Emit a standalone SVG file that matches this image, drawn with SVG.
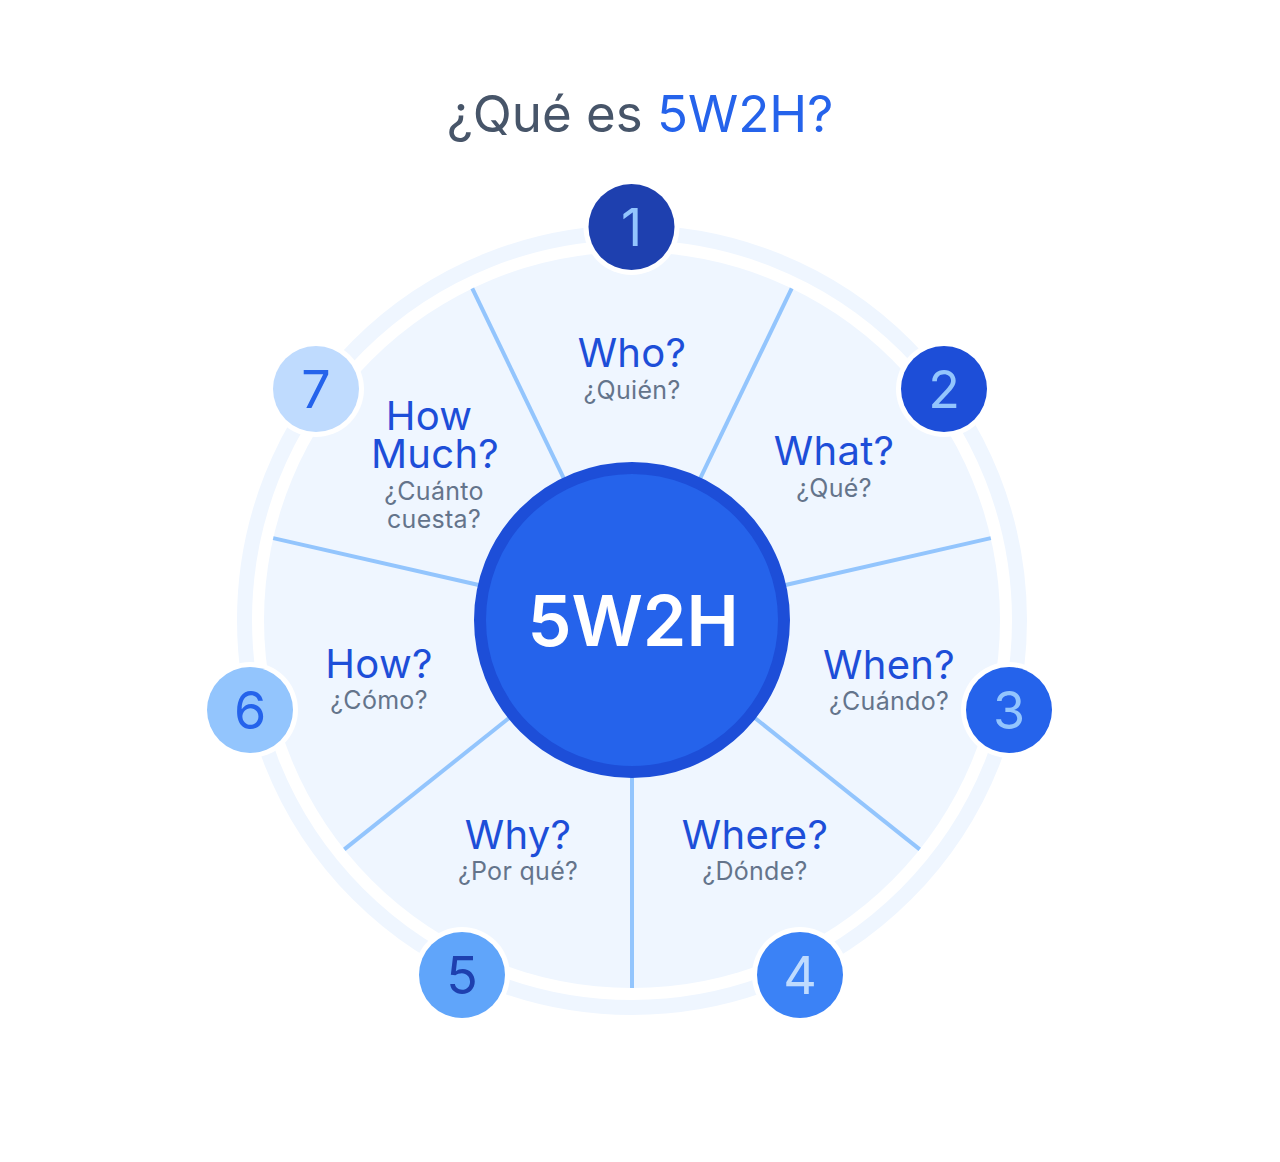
<svg xmlns="http://www.w3.org/2000/svg" width="1280" height="1162" viewBox="0 0 1280 1162">
<style>
text{font-family:Inter,"Noto Sans","Liberation Sans",sans-serif;text-anchor:middle}
.title{font-size:51px;fill:#475569}
.lbl{font-size:40px;fill:#1D4ED8;letter-spacing:0.3px}
.sub{font-size:25px;fill:#64748B;letter-spacing:0.3px}
.num{font-size:52px}
.spoke{stroke:#93C5FD;stroke-width:4;stroke-linecap:butt}
.halo{fill:#FFFFFF}
</style>
<rect width="1280" height="1162" fill="#FFFFFF"/>
<text class="title" x="640" y="132">¿Qué es <tspan fill="#2563EB">5W2H?</tspan></text>
<g id="wheel">
<circle cx="632" cy="620" r="387.5" fill="none" stroke="#EFF6FF" stroke-width="15"/>
<circle cx="632" cy="620" r="368" fill="#EFF6FF"/>
</g>
<g id="connectors">
<line class="spoke" x1="632" y1="620" x2="472.3" y2="288.4"/>
<line class="spoke" x1="632" y1="620" x2="791.7" y2="288.4"/>
<line class="spoke" x1="632" y1="620" x2="990.8" y2="538.1"/>
<line class="spoke" x1="632" y1="620" x2="919.7" y2="849.4"/>
<line class="spoke" x1="632" y1="620" x2="632" y2="988"/>
<line class="spoke" x1="632" y1="620" x2="344.3" y2="849.4"/>
<line class="spoke" x1="632" y1="620" x2="273.2" y2="538.1"/>
</g>
<g id="center">
<circle cx="632" cy="620" r="152" fill="#2563EB" stroke="#1D4ED8" stroke-width="12"/>
<text x="633" y="646" font-size="70" font-weight="600" fill="#FFFFFF">5W2H</text>
</g>
<g id="who"><text class="lbl" x="632" y="367">Who?</text><text class="sub" x="632" y="399">¿Quién?</text></g>
<g id="what"><text class="lbl" x="834" y="465">What?</text><text class="sub" x="834" y="497">¿Qué?</text></g>
<g id="when"><text class="lbl" x="889" y="679">When?</text><text class="sub" x="889" y="710">¿Cuándo?</text></g>
<g id="where"><text class="lbl" x="755" y="849">Where?</text><text class="sub" x="755" y="880">¿Dónde?</text></g>
<g id="why"><text class="lbl" x="518" y="849">Why?</text><text class="sub" x="518" y="880">¿Por qué?</text></g>
<g id="how"><text class="lbl" x="379" y="678">How?</text><text class="sub" x="379" y="709">¿Cómo?</text></g>
<g id="howmuch"><text class="lbl" x="429" y="430">How</text><text class="lbl" x="435" y="468">Much?</text><text class="sub" x="434" y="500">¿Cuánto</text><text class="sub" x="434" y="528">cuesta?</text></g>
<g id="n1"><circle class="halo" cx="631.5" cy="227" r="48"/><circle cx="631.5" cy="227" r="43" fill="#1E40AF"/><text class="num" x="631.5" y="246" fill="#93C5FD">1</text></g>
<g id="n2"><circle class="halo" cx="944" cy="389" r="48"/><circle cx="944" cy="389" r="43" fill="#1D4ED8"/><text class="num" x="944" y="408" fill="#93C5FD">2</text></g>
<g id="n3"><circle class="halo" cx="1009" cy="710" r="48"/><circle cx="1009" cy="710" r="43" fill="#2563EB"/><text class="num" x="1009" y="729" fill="#93C5FD">3</text></g>
<g id="n4"><circle class="halo" cx="800" cy="975" r="48"/><circle cx="800" cy="975" r="43" fill="#3B82F6"/><text class="num" x="800" y="994" fill="#BFDBFE">4</text></g>
<g id="n5"><circle class="halo" cx="462" cy="975" r="48"/><circle cx="462" cy="975" r="43" fill="#60A5FA"/><text class="num" x="462" y="994" fill="#1E40AF">5</text></g>
<g id="n6"><circle class="halo" cx="250" cy="710" r="48"/><circle cx="250" cy="710" r="43" fill="#93C5FD"/><text class="num" x="250" y="729" fill="#2563EB">6</text></g>
<g id="n7"><circle class="halo" cx="316" cy="389" r="48"/><circle cx="316" cy="389" r="43" fill="#BFDBFE"/><text class="num" x="316" y="408" fill="#2563EB">7</text></g>
</svg>
